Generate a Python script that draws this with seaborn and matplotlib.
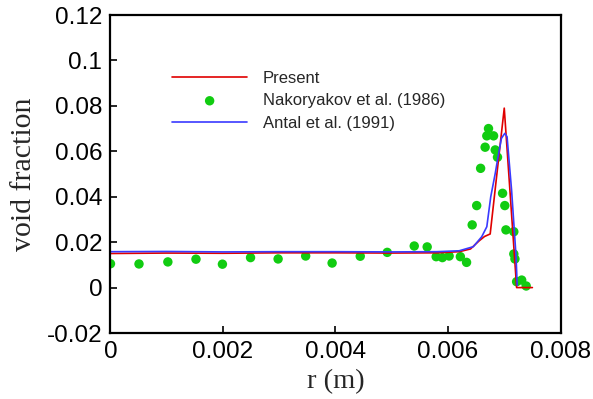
import numpy as np
import pandas as pd
import seaborn as sns
import matplotlib

matplotlib.use('Agg')
import matplotlib.pyplot as plt

# Present (simulation) - red line
present_r = [0, 0.001, 0.002, 0.003, 0.004, 0.005, 0.0058, 0.0062, 0.0064, 0.00655,
             0.00665, 0.00675, 0.0070, 0.00722, 0.0075]
present_void = [0.0150, 0.0152, 0.0151, 0.0153, 0.0153, 0.0152, 0.0153, 0.0158, 0.0170, 0.0205,
                0.0225, 0.0236, 0.0790, 0.0, 0.0]

# Antal et al. (1991) - blue line
antal_r = [0, 0.001, 0.002, 0.003, 0.004, 0.005, 0.0058, 0.0062, 0.00645, 0.0066,
           0.00669, 0.00676, 0.00684, 0.00689, 0.00695, 0.00701, 0.00705, 0.00713, 0.00721, 0.00723]
antal_void = [0.0158, 0.0159, 0.0157, 0.0158, 0.0158, 0.0157, 0.0158, 0.0162, 0.0180, 0.0224,
              0.0268, 0.0400, 0.0503, 0.0576, 0.0657, 0.0679, 0.0664, 0.0430, 0.0136, 0.001]

# Nakoryakov et al. (1986) - experiment, green dots
exp_r = [0, 0.000507, 0.00102, 0.00152, 0.00199, 0.00249, 0.00298, 0.00347, 0.00394, 0.00444,
         0.00492, 0.00540, 0.00563, 0.00579, 0.00590, 0.00602, 0.00622, 0.00633, 0.00643, 0.00651,
         0.00658, 0.00666, 0.00669, 0.00672, 0.00681, 0.00684, 0.00688, 0.00697, 0.00701, 0.00703,
         0.00717, 0.00717, 0.00719, 0.00722, 0.00731, 0.00739]
exp_void = [0.0105, 0.0104, 0.0113, 0.0125, 0.0103, 0.0132, 0.0126, 0.0139, 0.0108, 0.0138,
            0.0155, 0.0183, 0.0179, 0.0136, 0.0132, 0.0139, 0.0136, 0.0111, 0.0276, 0.0361,
            0.0525, 0.0618, 0.0668, 0.0700, 0.0668, 0.0606, 0.0574, 0.0415, 0.0361, 0.0254,
            0.0246, 0.0148, 0.0126, 0.0026, 0.0033, 0.0007]

df_present = pd.DataFrame({"r": present_r, "void": present_void})
df_antal = pd.DataFrame({"r": antal_r, "void": antal_void})
df_exp = pd.DataFrame({"r": exp_r, "void": exp_void})

sns.set_style("white")
plt.rcParams['font.family'] = ['Liberation Sans', 'DejaVu Sans']

fig = plt.figure(figsize=(5.93, 3.99), dpi=100)
ax = fig.add_axes([0.1863, 0.1654, 0.7589, 0.797])

sns.lineplot(data=df_present, x="r", y="void", ax=ax, color="#e00000", linewidth=1.2,
             label="Present", sort=False)
sns.scatterplot(data=df_exp, x="r", y="void", ax=ax, color="#11cc11", s=46, edgecolor="none",
                label="Nakoryakov et al. (1986)", zorder=1)
sns.lineplot(data=df_antal, x="r", y="void", ax=ax, color="#3a3aff", linewidth=1.2,
             label="Antal et al. (1991)", sort=False)

ax.set_xlim(0, 0.008)
ax.set_ylim(-0.02, 0.12)
ax.set_xticks([0, 0.002, 0.004, 0.006, 0.008])
ax.set_xticklabels(["0", "0.002", "0.004", "0.006", "0.008"])
ax.set_yticks([-0.02, 0, 0.02, 0.04, 0.06, 0.08, 0.1, 0.12])
ax.set_yticklabels(["-0.02", "0", "0.02", "0.04", "0.06", "0.08", "0.1", "0.12"])
ax.tick_params(direction="in", length=5, width=1.2, labelsize=17.5, colors="black",
               top=False, right=False, bottom=True, left=True, pad=6)
for sp in ax.spines.values():
    sp.set_color("black")
    sp.set_linewidth(1.6)

ax.set_xlabel("r (m)", family="Liberation Serif", fontsize=20.5, labelpad=4)
ax.set_ylabel("void fraction", family="Liberation Serif", fontsize=21.5, labelpad=7)

leg = ax.legend(loc="upper left", bbox_to_anchor=(0.137, 0.825), frameon=False, fontsize=12,
                handlelength=4.5, handletextpad=0.95, labelspacing=0.45,
                borderpad=0, borderaxespad=0)

plt.savefig("out.png", dpi=100)
